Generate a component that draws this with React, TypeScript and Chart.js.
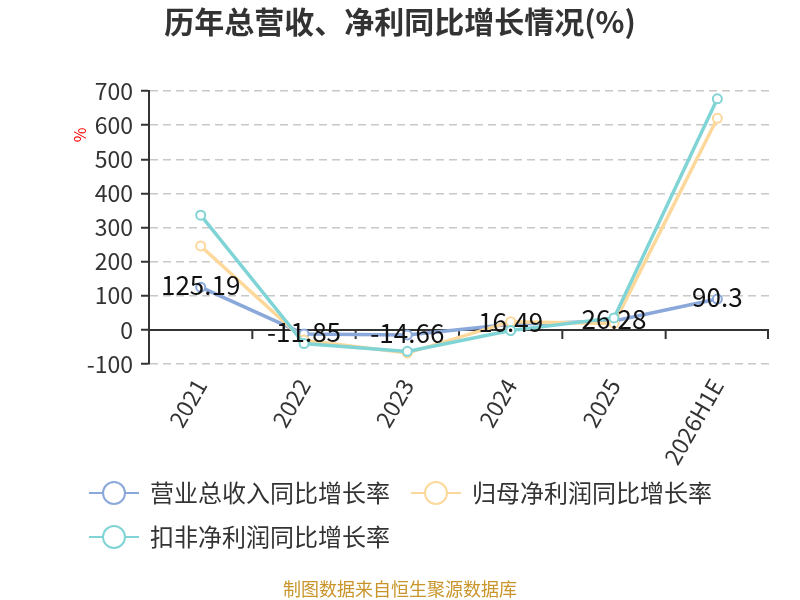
import { useEffect, useRef } from 'react';
import { Chart, registerables } from 'chart.js';

Chart.register(...registerables);

const FONT = "'Noto Sans CJK SC', 'Noto Sans', sans-serif";

const categories = ['2021', '2022', '2023', '2024', '2025', '2026H1E'];
const revenueGrowth = [125.19, -11.85, -14.66, 16.49, 26.28, 90.3];
const netProfitGrowth = [246, -30, -68, 24, 19, 620];
const deductedProfitGrowth = [336, -40, -63, -2, 35, 677];
const seriesNames = ['营业总收入同比增长率', '归母净利润同比增长率', '扣非净利润同比增长率'];
const seriesColors = ['#8ba8db', '#fdd89b', '#80d4d6'];
const yMin = -100;
const yMax = 700;
const yStep = 100;

const titleText = '历年总营收、净利同比增长情况(%)';
const footerText = '制图数据来自恒生聚源数据库';

// title, unit and source note
const textPlugin = {
  id: 'texts',
  afterDraw(chart: Chart) {
    const ctx = chart.ctx;
    ctx.save();
    ctx.fillStyle = '#333';
    ctx.font = `bold 30px ${FONT}`;
    ctx.textAlign = 'center';
    ctx.textBaseline = 'middle';
    ctx.fillText(titleText, 400, 22);

    ctx.fillStyle = '#c9952a';
    ctx.font = `18px ${FONT}`;
    ctx.fillText(footerText, 400, 589);

    ctx.translate(80, 135);
    ctx.rotate(-Math.PI / 2);
    ctx.fillStyle = '#ff0000';
    ctx.font = `16px ${FONT}`;
    ctx.fillText('%', 0, 0);
    ctx.restore();
  }
};

// solid axis line at zero with tick marks between categories
const zeroLinePlugin = {
  id: 'zeroLine',
  beforeDatasetsDraw(chart: Chart) {
    const { ctx, chartArea, scales } = chart;
    const y0 = scales.y.getPixelForValue(0);
    ctx.save();
    ctx.strokeStyle = '#333';
    ctx.lineWidth = 2;
    ctx.beginPath();
    ctx.moveTo(chartArea.left, y0);
    ctx.lineTo(chartArea.right, y0);
    for (let i = 1; i <= categories.length; i++) {
      const x =
        i === categories.length
          ? chartArea.right - 1
          : (scales.x.getPixelForValue(i - 1) + scales.x.getPixelForValue(i)) / 2;
      ctx.moveTo(x, y0);
      ctx.lineTo(x, y0 + 9);
    }
    ctx.stroke();
    ctx.restore();
  }
};

// values of the first series
const valueLabelPlugin = {
  id: 'valueLabels',
  afterDatasetsDraw(chart: Chart) {
    const ctx = chart.ctx;
    const meta = chart.getDatasetMeta(0);
    ctx.save();
    ctx.fillStyle = '#111';
    ctx.font = `26px ${FONT}`;
    ctx.textAlign = 'center';
    ctx.textBaseline = 'middle';
    meta.data.forEach((pt, i) => {
      ctx.fillText(String(revenueGrowth[i]), pt.x, pt.y - 2);
    });
    ctx.restore();
  }
};

const legendPlugin = {
  id: 'customLegend',
  afterDraw(chart: Chart) {
    const ctx = chart.ctx;
    ctx.save();
    ctx.font = `24px ${FONT}`;
    ctx.textBaseline = 'middle';
    const startX = 89;
    let x = startX;
    let y = 493;
    chart.data.datasets.forEach((ds, i) => {
      const label = String(ds.label);
      const w = 50 + 11 + ctx.measureText(label).width;
      if (x > startX && x + w > 770) {
        x = startX;
        y += 44;
      }
      const color = seriesColors[i];
      ctx.strokeStyle = color;
      ctx.lineWidth = 2;
      ctx.beginPath();
      ctx.moveTo(x, y);
      ctx.lineTo(x + 50, y);
      ctx.stroke();
      ctx.beginPath();
      ctx.arc(x + 25, y, 11, 0, Math.PI * 2);
      ctx.fillStyle = '#fff';
      ctx.fill();
      ctx.stroke();
      ctx.fillStyle = '#333';
      ctx.textAlign = 'left';
      ctx.fillText(label, x + 61, y);
      x += w + 21;
    });
    ctx.restore();
  }
};

export default function App() {
  const canvasRef = useRef<HTMLCanvasElement>(null);
  const chartRef = useRef<Chart | null>(null);

  useEffect(() => {
    if (!canvasRef.current) return;
    if (chartRef.current) chartRef.current.destroy();

    const series = [revenueGrowth, netProfitGrowth, deductedProfitGrowth];

    chartRef.current = new Chart(canvasRef.current, {
      type: 'line',
      data: {
        labels: categories,
        datasets: series.map((data, i) => ({
          label: seriesNames[i],
          data,
          borderColor: seriesColors[i],
          backgroundColor: '#fff',
          borderWidth: 3.5,
          pointRadius: 4.5,
          pointBorderWidth: 2,
          pointBackgroundColor: '#fff',
          pointBorderColor: seriesColors[i],
          tension: 0,
          order: 3 - i
        }))
      },
      options: {
        responsive: false,
        animation: false,
        layout: { padding: { left: 0, right: 31, top: 91, bottom: 0 } },
        plugins: {
          legend: { display: false },
          title: { display: false },
          tooltip: { enabled: false }
        },
        scales: {
          x: {
            offset: true,
            grid: { display: false, drawTicks: false },
            border: { display: false },
            ticks: {
              color: '#333',
              font: { size: 23, family: FONT },
              minRotation: 60,
              maxRotation: 60,
              autoSkip: false,
              padding: 10
            },
            afterFit(scale) {
              scale.height = 236;
            }
          },
          y: {
            min: yMin,
            max: yMax,
            ticks: {
              stepSize: yStep,
              color: '#333',
              font: { size: 23, family: FONT },
              padding: 8
            },
            grid: {
              color: (c) => (c.tick && c.tick.value === 0 ? 'rgba(0,0,0,0)' : '#c8c8c8'),
              lineWidth: 1.5,
              tickColor: '#333',
              tickLength: 8,
              tickWidth: 2
            },
            border: { display: true, color: '#333', width: 2, dash: [8, 5] },
            afterFit(scale) {
              scale.width = 149;
            }
          }
        }
      },
      plugins: [textPlugin, zeroLinePlugin, valueLabelPlugin, legendPlugin]
    });

    return () => {
      if (chartRef.current) {
        chartRef.current.destroy();
        chartRef.current = null;
      }
    };
  }, []);

  return (
    <div style={{ position: 'absolute', left: 0, top: 0, width: 800, height: 600, background: '#fff' }}>
      <canvas ref={canvasRef} width={800} height={600} />
    </div>
  );
}
